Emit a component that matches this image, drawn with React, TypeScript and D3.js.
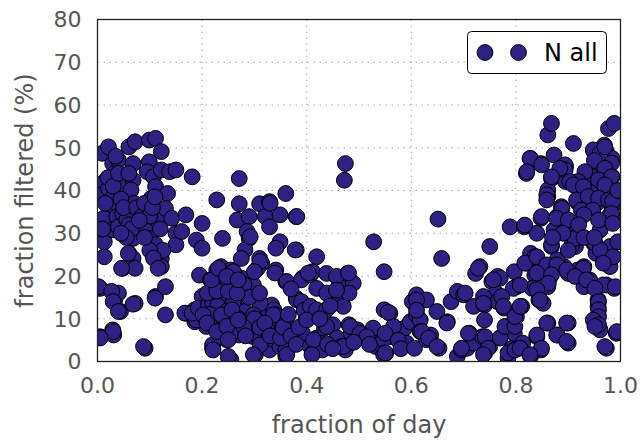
import React from "react";
import * as d3 from "d3";

type Pt = [number, number]; // [fraction of day, fraction filtered %]

const xTicks = [0, 0.2, 0.4, 0.6, 0.8, 1.0];
const yTicks = [0, 10, 20, 30, 40, 50, 60, 70, 80];
const seriesLabel = "N all";
const xLabel = "fraction of day";
const yLabel = "fraction filtered (%)";

// Observations grouped by time-of-day window
const earlyNight: Pt[] = [
  [0.009, 48.7], [0.021, 50.2], [0.005, 5.8], [0.005, 17.1], [0.013, 24.5], [0.013, 28], [0.012, 33.5],
  [0.009, 39.3], [0.013, 42], [0.021, 40.5], [0.029, 46.3], [0.033, 44], [0.04, 47.1], [0.029, 38.2],
  [0.033, 36.2], [0.037, 33.9], [0.029, 30.8], [0.04, 31.5], [0.033, 14.4], [0.04, 16], [0.044, 11.7],
  [0.029, 7.4], [0.031, 6.2], [0.048, 43.2], [0.052, 41.3], [0.048, 34.7], [0.056, 33.1], [0.048, 21.8],
  [0.06, 50.2], [0.072, 51.4], [0.068, 46.3], [0.068, 42.4], [0.064, 40.1], [0.07, 37], [0.08, 35.4],
  [0.072, 30], [0.068, 28.8], [0.06, 25.3], [0.068, 24.1], [0.072, 21.8], [0.072, 13.6], [0.091, 3.1],
  [0.087, 32.7], [0.091, 30.8], [0.099, 51.8], [0.111, 52.2], [0.099, 46.7], [0.095, 44.4], [0.107, 43.2],
  [0.111, 40.9], [0.103, 38.2], [0.122, 49.1], [0.122, 44.8], [0.099, 28.8], [0.111, 27.3], [0.119, 24.9],
  [0.122, 24.1], [0.111, 23.8], [0.122, 22.2], [0.115, 33.1], [0.111, 15.2], [0.13, 17.5], [0.13, 10.9],
  [0.134, 39.3], [0.138, 44.4], [0.15, 44.8], [0.13, 35.8], [0.142, 33.5], [0.15, 30], [0.15, 27.3],
  [0.161, 30.4], [0.169, 34.3], [0.181, 43.2], [0.169, 11.3], [0.189, 28.4],
  [0.02, 43], [0.03, 41], [0.045, 38], [0.05, 36], [0.06, 32], [0.065, 31], [0.055, 29], [0.045, 30],
  [0.075, 36], [0.085, 34], [0.09, 37], [0.1, 34], [0.105, 36], [0.11, 38.5], [0.12, 31], [0.125, 26],
  [0.1, 26], [0.09, 29], [0.08, 33], [0.04, 44], [0.035, 48], [0.06, 44], [0.015, 37], [0.01, 31],
  [0.002, 17.5], [0.027, 16.4], [0.03, 14], [0.04, 11.7], [0.068, 13.4], [0.11, 14.8], [0.046, 21.8],
  [0.059, 25.3], [0.107, 24.2], [0.116, 21.8], [0.03, 7], [0.005, 5.5], [0.088, 3.5], [0.167, 11.3],
  [0.186, 12.1], [0.186, 9.3],
];

const morning: Pt[] = [
  [0.2, 32.3], [0.2, 26.5], [0.195, 20.2], [0.228, 37.8], [0.239, 28.8], [0.271, 42.8], [0.271, 36.9],
  [0.267, 33.1], [0.29, 33.9], [0.286, 30.4], [0.29, 28.8], [0.282, 26.1], [0.275, 24.1], [0.31, 36.9],
  [0.329, 37.4], [0.321, 33.9], [0.329, 31.5], [0.349, 34.3], [0.36, 39.3], [0.38, 33.9], [0.349, 28],
  [0.341, 26.5], [0.38, 26.1], [0.31, 24.1], [0.314, 23], [0.306, 21.8], [0.341, 21.4], [0.36, 18.7],
  [0.298, 17.9], [0.38, 14.8], [0.2, 15.2], [0.216, 19.1], [0.228, 21.4], [0.236, 22.2], [0.224, 17.5],
  [0.232, 16], [0.232, 18.3], [0.24, 15.2], [0.24, 10.9], [0.255, 21.4], [0.263, 19.9], [0.259, 17.9],
  [0.263, 16], [0.271, 15.6], [0.275, 19.5], [0.279, 11.7], [0.263, 12.5], [0.255, 10.1], [0.251, 7.8],
  [0.247, 5.1], [0.251, 0.8], [0.255, 0.4], [0.22, 3.1], [0.22, 3.9], [0.208, 8.2], [0.189, 9.7],
  [0.181, 11.3], [0.193, 12.5], [0.204, 10.5], [0.212, 13.2], [0.22, 9.7], [0.236, 5.8], [0.259, 7.4],
  [0.267, 6.6], [0.271, 6.2], [0.282, 11.7], [0.298, 7.8], [0.298, 5.8], [0.302, 1.6], [0.314, 4.3],
  [0.314, 8.2], [0.31, 13.6], [0.321, 12.5], [0.333, 13.2], [0.337, 12.1], [0.341, 10.9], [0.345, 9.7],
  [0.325, 7.4], [0.329, 2.7], [0.337, 5.1], [0.349, 3.5], [0.353, 7.8], [0.36, 2.7], [0.36, 1.2],
  [0.368, 7.4], [0.392, 6.6], [0.399, 10.1], [0.392, 19.5],
  [0.292, 29.2], [0.311, 23.4], [0.339, 20.7], [0.362, 18.7], [0.39, 19.1], [0.381, 14.4], [0.311, 13.6],
  [0.336, 10.9], [0.298, 10.9], [0.368, 7.8], [0.298, 6.6], [0.311, 3.9], [0.362, 1.6], [0.298, 1.6],
  [0.33, 37], [0.381, 33.9], [0.378, 26.1],
  [0.22, 14], [0.23, 13], [0.245, 17], [0.25, 12], [0.26, 14], [0.28, 18], [0.29, 15], [0.3, 10],
  [0.31, 8], [0.32, 9], [0.33, 6], [0.35, 5.5], [0.355, 8], [0.365, 11], [0.37, 6], [0.38, 4],
  [0.385, 8], [0.39, 14], [0.395, 12], [0.3, 21], [0.31, 16], [0.27, 10], [0.28, 8], [0.24, 8],
  [0.25, 9], [0.215, 11], [0.21, 16], [0.26, 21], [0.37, 17], [0.237, 10.9], [0.257, 12.1],
  [0.202, 10.9], [0.209, 9], [0.228, 7], [0.247, 8.2], [0.269, 9.7], [0.25, 5.1], [0.221, 2.7],
  [0.25, 1.2], [0.283, 6], [0.228, 16.5], [0.25, 16.4], [0.267, 16], [0.218, 19.1], [0.231, 21.8],
  [0.247, 19.9], [0.269, 19.1],
];

const midday: Pt[] = [
  [0.419, 24.5], [0.407, 20.2], [0.411, 21], [0.419, 17.1], [0.438, 20.6], [0.438, 16], [0.407, 12.9],
  [0.419, 12.1], [0.419, 5.5], [0.407, 3.5], [0.411, 1.9], [0.434, 7.8], [0.43, 2.7], [0.438, 12.1],
  [0.45, 8.6], [0.458, 16.7], [0.462, 14.8], [0.47, 12.9], [0.462, 17.9], [0.458, 5.5], [0.466, 3.5],
  [0.474, 2.7], [0.474, 46.3], [0.472, 42.4], [0.478, 20.6], [0.489, 18.3], [0.481, 16], [0.481, 8.6],
  [0.485, 6.6], [0.497, 7.4], [0.501, 6.6], [0.508, 5.8], [0.528, 28], [0.548, 21], [0.548, 12.1],
  [0.559, 11.3], [0.528, 7.4], [0.532, 3.5], [0.548, 5.5], [0.551, 1.9], [0.563, 5.8], [0.567, 7.8],
  [0.587, 7.8], [0.59, 3.9], [0.598, 9.3],
  [0.403, 20.7], [0.457, 19.9], [0.48, 20.7], [0.457, 16.7], [0.4, 9.7], [0.438, 8.2], [0.483, 8.2],
  [0.502, 6.6], [0.527, 7.8], [0.547, 5.1], [0.413, 5.1], [0.47, 3.5], [0.41, 1.6], [0.547, 1.6],
  [0.515, 5.8], [0.566, 8.2], [0.55, 6.6], [0.55, 2], [0.556, 11.5], [0.591, 4.3],
  [0.44, 4], [0.45, 3], [0.425, 10], [0.445, 13], [0.49, 4.5], [0.52, 4], [0.575, 5], [0.58, 3],
];

const afternoon: Pt[] = [
  [0.606, 3.1], [0.602, 14], [0.61, 15.6], [0.61, 10.9], [0.617, 9.7], [0.617, 7], [0.629, 5.1],
  [0.629, 14.4], [0.637, 6.2], [0.649, 11.7], [0.653, 3.1], [0.651, 33.3], [0.658, 24.1], [0.669, 9.3],
  [0.676, 14], [0.688, 16.4], [0.7, 15.6], [0.688, 1.2], [0.696, 2.7], [0.707, 3.1], [0.711, 6.6],
  [0.719, 4.3], [0.723, 20.6], [0.731, 22.2], [0.719, 12.9], [0.74, 14.8], [0.74, 13.2], [0.74, 9.7],
  [0.736, 5.8], [0.74, 1.9], [0.75, 3.5], [0.75, 26.9], [0.754, 18.7], [0.765, 19.9], [0.762, 16],
  [0.765, 14], [0.777, 12.5], [0.769, 5.5], [0.781, 7.8], [0.789, 31.5], [0.785, 0.8], [0.793, 3.1],
  [0.797, 6.6], [0.801, 10.5], [0.801, 17.5], [0.797, 21],
  [0.728, 21.8], [0.77, 19.5], [0.757, 19.1], [0.795, 17.1], [0.773, 15.2], [0.776, 12.9], [0.738, 15.2],
  [0.738, 13.6], [0.703, 16], [0.61, 14.4], [0.61, 12], [0.62, 7], [0.633, 5.5], [0.649, 3.5],
  [0.668, 9], [0.709, 6.6], [0.696, 3.1], [0.741, 5.8], [0.747, 3.1], [0.738, 1.6], [0.77, 5.5],
  [0.779, 8.2], [0.785, 2], [0.798, 2.7], [0.798, 8.2], [0.798, 10.5],
];

const evening: Pt[] = [
  [0.811, 12.9], [0.813, 4.3], [0.816, 31.5], [0.82, 44], [0.828, 47.5], [0.82, 23], [0.828, 25.3],
  [0.84, 30], [0.836, 24.5], [0.836, 20.2], [0.831, 17.1], [0.844, 14.4], [0.852, 13.6], [0.84, 5.8],
  [0.828, 1.2], [0.848, 2.7], [0.848, 33.5], [0.848, 46.3], [0.861, 53], [0.868, 55.7], [0.873, 48.3],
  [0.868, 42.8], [0.861, 40.1], [0.861, 38.6], [0.868, 26.9], [0.864, 19.5], [0.861, 17.5], [0.861, 9],
  [0.873, 30.8], [0.879, 33.9], [0.887, 36.2], [0.895, 45.6], [0.895, 42.1], [0.895, 33.1], [0.9, 20.6],
  [0.9, 9], [0.892, 22.2], [0.879, 23.8], [0.9, 4.3], [0.879, 6.2], [0.91, 51], [0.91, 30.8],
  [0.914, 26.9], [0.918, 21.4], [0.93, 22.2], [0.93, 17.5], [0.918, 37.2], [0.922, 40.9], [0.937, 43.6],
  [0.93, 34.7], [0.941, 35.4], [0.945, 40.9], [0.949, 49.1], [0.957, 48.3], [0.961, 44.8], [0.957, 37.2],
  [0.961, 30.8], [0.949, 27.6], [0.953, 25.3], [0.941, 19.1], [0.953, 9.7], [0.957, 12.9], [0.957, 14.4],
  [0.961, 7.4], [0.973, 3.1], [0.977, 54.5], [0.988, 55.7], [0.969, 50.6], [0.973, 49.1], [0.984, 47.5],
  [0.984, 43.2], [0.977, 41.7], [0.98, 34.3], [0.984, 36.2], [0.988, 33.5], [0.977, 26.5], [0.969, 23.8],
  [0.984, 24.5], [0.98, 22.2], [0.988, 17.1], [0.973, 17.9], [0.992, 6.6],
  [0.827, 47.5], [0.821, 44.4], [0.849, 46], [0.894, 46], [0.894, 44.8], [0.884, 45.2], [0.868, 43.2],
  [0.948, 49.5], [0.961, 48.7], [0.97, 50.2], [0.95, 47], [0.983, 46.4], [0.97, 45.2], [0.945, 43.2],
  [0.932, 44.4], [0.919, 42.1], [0.903, 42.1], [0.91, 41.3], [0.929, 40.9], [0.958, 42.5], [0.983, 43.2],
  [0.97, 41.3], [0.859, 39], [0.859, 37.8], [0.916, 37.8], [0.938, 38.6], [0.958, 38.2], [0.977, 37.8],
  [0.985, 37.5], [0.888, 35.8], [0.925, 35.4], [0.947, 35.4], [0.983, 34.6], [0.849, 33.9], [0.878, 33.5],
  [0.9, 33.1], [0.93, 34.3], [0.958, 33.1], [0.985, 32.3], [0.817, 31.9],
  [0.868, 27.3], [0.907, 27.3], [0.913, 28.8], [0.951, 27.7], [0.98, 26.9], [0.961, 26.1], [0.986, 24.5],
  [0.967, 23], [0.817, 23], [0.84, 24.5], [0.859, 22.6], [0.878, 22.6], [0.897, 21.4], [0.929, 21.8],
  [0.84, 20.7], [0.868, 20.3], [0.913, 19.9], [0.935, 19.1], [0.862, 18.3], [0.808, 17.9], [0.967, 17.9],
  [0.99, 17.5], [0.951, 17.1], [0.84, 16.8], [0.808, 12.9], [0.846, 14.4], [0.958, 14], [0.958, 12.1],
  [0.958, 10.5], [0.948, 9.7], [0.958, 8.6], [0.951, 8.2], [0.859, 9], [0.897, 9], [0.993, 7],
  [0.84, 6.2], [0.878, 6.2], [0.897, 4.7], [0.808, 3.1], [0.849, 3.1], [0.827, 1.6], [0.97, 3.5],
  [0.89, 30], [0.92, 32], [0.93, 29], [0.95, 29], [0.995, 40], [0.995, 28], [0.87, 29], [0.9, 26],
];

const W = 640;
const H = 442;
const plot = { left: 97.5, right: 620.5, top: 19.5, bottom: 361.5 };
const markerFill = "#2d2283";
const markerR = 7.9;
const textGray = "#555555";
const fontFamily = "'DejaVu Sans', sans-serif";

export default function App() {
  const x = d3.scaleLinear().domain([0, 1]).range([plot.left, plot.right]);
  const y = d3.scaleLinear().domain([0, 80]).range([plot.bottom, plot.top]);
  const points = [...earlyNight, ...morning, ...midday, ...afternoon, ...evening];
  const fmtX = d3.format(".1f");

  const legend = { x: 467.5, y: 31.5, w: 139, h: 42 };

  return (
    <svg
      width={W}
      height={H}
      style={{ position: "absolute", left: 0, top: 0, display: "block", background: "#fff" }}
      fontFamily={fontFamily}
    >
      <defs>
        <clipPath id="plot-area">
          <rect x={plot.left} y={plot.top} width={plot.right - plot.left} height={plot.bottom - plot.top} />
        </clipPath>
      </defs>

      {/* dotted grid */}
      <g stroke="#a8a8a8" strokeWidth={1} strokeDasharray="1.5,4.5">
        {xTicks.slice(1, -1).map((t) => (
          <line key={`gx${t}`} x1={x(t)} x2={x(t)} y1={plot.top} y2={plot.bottom} />
        ))}
        {yTicks.slice(1, -1).map((t) => (
          <line key={`gy${t}`} x1={plot.left} x2={plot.right} y1={y(t)} y2={y(t)} />
        ))}
      </g>

      {/* observations */}
      <g clipPath="url(#plot-area)">
        {points.map((d, i) => (
          <circle key={i} cx={x(d[0])} cy={y(d[1])} r={markerR} fill={markerFill} stroke="#000" strokeWidth={1} />
        ))}
      </g>

      {/* frame */}
      <rect
        x={plot.left}
        y={plot.top}
        width={plot.right - plot.left}
        height={plot.bottom - plot.top}
        fill="none"
        stroke="#222"
        strokeWidth={1.3}
      />

      {/* tick labels */}
      <g fill={textGray} fontSize={22}>
        {xTicks.map((t) => (
          <text key={`tx${t}`} x={x(t)} y={plot.bottom + 31} textAnchor="middle">
            {fmtX(t)}
          </text>
        ))}
        {yTicks.map((t) => (
          <text key={`ty${t}`} x={plot.left - 16} y={y(t)} dy="0.36em" textAnchor="end">
            {t}
          </text>
        ))}
      </g>

      {/* axis titles */}
      <text x={(plot.left + plot.right) / 2} y={433} textAnchor="middle" fill={textGray} fontSize={24}>
        {xLabel}
      </text>
      <text
        transform={`translate(33,${(plot.top + plot.bottom) / 2}) rotate(-90)`}
        textAnchor="middle"
        fill={textGray}
        fontSize={24}
      >
        {yLabel}
      </text>

      {/* legend */}
      <rect x={legend.x} y={legend.y} width={legend.w} height={legend.h} rx={4} fill="#fff" stroke="#000" strokeWidth={1} />
      <circle cx={485} cy={legend.y + legend.h / 2} r={markerR} fill={markerFill} stroke="#000" strokeWidth={1} />
      <circle cx={518.5} cy={legend.y + legend.h / 2} r={markerR} fill={markerFill} stroke="#000" strokeWidth={1} />
      <text x={544} y={legend.y + legend.h / 2 + 8.5} fontSize={24} fill="#000">
        {seriesLabel}
      </text>
    </svg>
  );
}
